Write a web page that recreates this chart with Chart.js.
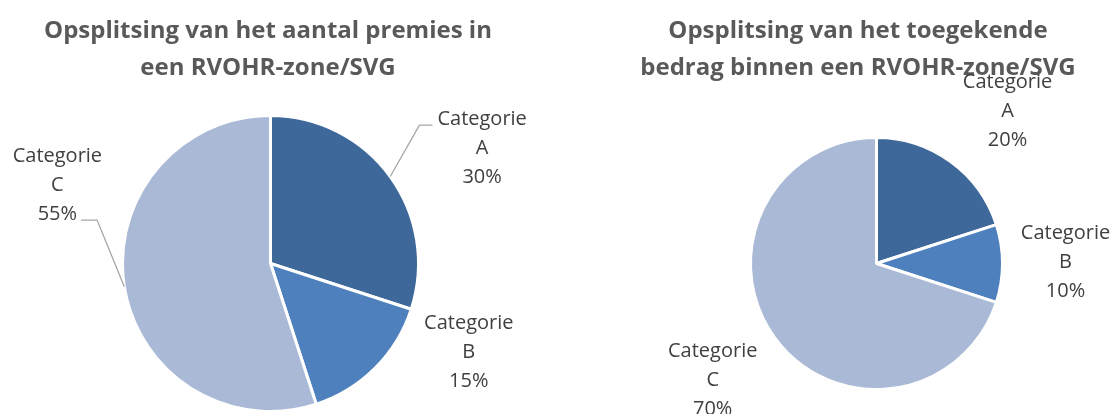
<!DOCTYPE html>
<html>
<head>
<meta charset="utf-8">
<script src="https://cdn.jsdelivr.net/npm/chart.js@4/dist/chart.umd.min.js"></script>
<style>
  body { margin: 0; background: #fff; }
  .wrap { position: absolute; top: 0; height: 414px; }
  #left { left: 0; width: 556px; }
  #right { left: 556px; width: 557px; }
</style>
</head>
<body>
<div class="wrap" id="left"><canvas id="pieLeft"></canvas></div>
<div class="wrap" id="right"><canvas id="pieRight"></canvas></div>
<script>
// Data
const categories = ['Categorie A', 'Categorie B', 'Categorie C'];
const premiesShare = [30, 15, 55];
const bedragShare = [20, 10, 70];
const titleLeft = ['Opsplitsing van het aantal premies in', 'een RVOHR-zone/SVG'];
const titleRight = ['Opsplitsing van het toegekende', 'bedrag binnen een RVOHR-zone/SVG'];
const sliceColors = ['#3E6899', '#4E80BD', '#AAB9D6'];

const FONT = '"Open Sans", Lato, sans-serif';

// Draws the title and the outside data labels (with leader lines)
const labelPlugin = {
  id: 'pieLabels',
  afterDraw(chart, args, opts) {
    const c = chart.ctx;
    c.save();
    c.textAlign = 'center';
    c.textBaseline = 'middle';

    // title
    c.fillStyle = '#595959';
    c.font = 'bold ' + opts.titleSize + 'px ' + FONT;
    opts.title.forEach((line, i) => c.fillText(line, opts.titleX, opts.titleY + i * opts.titleGap));

    // slice labels
    const meta = chart.getDatasetMeta(0);
    const data = chart.data.datasets[0].data;
    const total = data.reduce((a, b) => a + b, 0);
    c.font = opts.labelSize + 'px ' + FONT;
    meta.data.forEach((arc, i) => {
      const { x, y, outerRadius, startAngle, endAngle } = arc.getProps(['x', 'y', 'outerRadius', 'startAngle', 'endAngle'], true);
      const pos = opts.labels[i];
      const lx = x + pos.dx * outerRadius;
      const ly = y + pos.dy * outerRadius;
      const parts = chart.data.labels[i].split(' ');
      const lines = [parts[0], parts[1], Math.round(data[i] / total * 100) + '%'];
      const top = ly - opts.lineGap;
      c.fillStyle = '#404040';
      lines.forEach((t, k) => c.fillText(t, lx, top + k * opts.lineGap));

      if (pos.leader) {
        const mid = (startAngle + endAngle) / 2;
        const sx = x + Math.cos(mid) * outerRadius;
        const sy = y + Math.sin(mid) * outerRadius;
        const lineY = top + pos.leader.line * opts.lineGap + 6;
        const w = c.measureText(lines[pos.leader.line]).width;
        const endX = pos.leader.side === 'left' ? lx - w / 2 - 5 : lx + w / 2 + 4;
        const elbowX = pos.leader.side === 'left' ? endX - 13 : endX + 16;
        c.strokeStyle = '#A6A6A6';
        c.lineWidth = 1.3;
        c.beginPath();
        c.moveTo(sx, sy);
        c.lineTo(elbowX, lineY);
        c.lineTo(endX, lineY);
        c.stroke();
      }
    });
    c.restore();
  }
};

function makePie(id, values, padding, title, titleX, labels) {
  return new Chart(document.getElementById(id), {
    type: 'pie',
    data: {
      labels: categories,
      datasets: [{
        data: values,
        backgroundColor: sliceColors,
        borderColor: '#ffffff',
        borderWidth: 3
      }]
    },
    options: {
      responsive: true,
      maintainAspectRatio: false,
      animation: false,
      layout: { padding },
      plugins: {
        legend: { display: false },
        tooltip: { enabled: false },
        pieLabels: {
          title, titleX, titleY: 31, titleGap: 37, titleSize: 24,
          labelSize: 20, lineGap: 29,
          labels
        }
      }
    },
    plugins: [labelPlugin]
  });
}

makePie('pieLeft', premiesShare, { left: 121, right: 136, top: 114, bottom: 1 },
  titleLeft, 268, [
    { dx: 1.43, dy: -0.78, leader: { line: 0, side: 'left' } },
    { dx: 1.34, dy: 0.60 },
    { dx: -1.44, dy: -0.53, leader: { line: 2, side: 'right' } }
  ]);

makePie('pieRight', bedragShare, { left: 193, right: 109, top: 136, bottom: 23 },
  titleRight, 302, [
    { dx: 1.04, dy: -1.21 },
    { dx: 1.50, dy: -0.01 },
    { dx: -1.30, dy: 0.93 }
  ]);
</script>
</body>
</html>
